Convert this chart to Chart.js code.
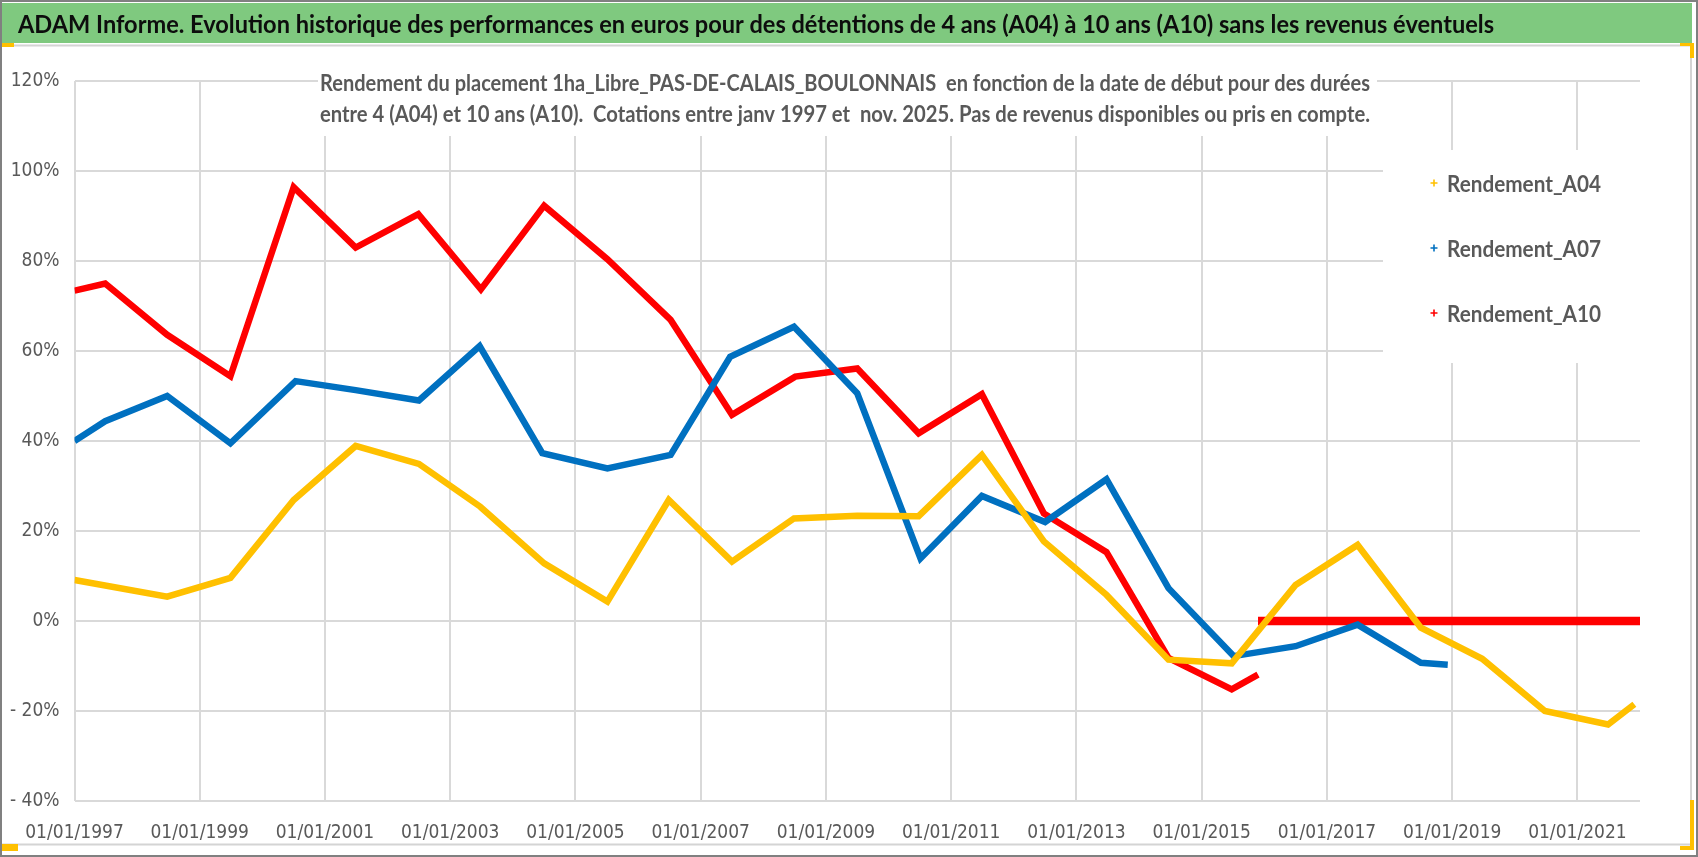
<!DOCTYPE html>
<html>
<head>
<meta charset="utf-8">
<title>ADAM Informe - Rendement 1ha_Libre_PAS-DE-CALAIS_BOULONNAIS</title>
<script src="https://cdn.jsdelivr.net/npm/chart.js@4.4.1/dist/chart.umd.min.js"></script>
<style>
    html, body { margin: 0; padding: 0; background: #ffffff; }
    canvas { display: block; }
</style>
</head>
<body>
<canvas id="myChart" width="1698" height="857"></canvas>
<script>
// axis ticks
const xTickYears = [1997, 1999, 2001, 2003, 2005, 2007, 2009, 2011, 2013, 2015, 2017, 2019, 2021];
const yTickValues = [-40, -20, 0, 20, 40, 60, 80, 100, 120];

// Rendement_A04 (start date as decimal year, return in %)
const yearsA04 = [1997.0, 1998.48, 1999.49, 2000.5, 2001.49, 2002.5, 2003.48, 2004.5, 2005.51, 2006.49,
    2007.5, 2008.49, 2009.5, 2010.48, 2011.49, 2012.48, 2013.48, 2014.47, 2015.48, 2016.5,
    2017.49, 2018.5, 2019.48, 2020.48, 2021.49, 2021.91];
const rendementA04 = [9.1, 5.4, 9.6, 26.9, 38.9, 34.9, 25.4, 12.8, 4.3, 26.9,
    13.2, 22.8, 23.4, 23.3, 36.9, 17.7, 5.8, -8.6, -9.4, 8.0,
    16.9, -1.5, -8.4, -20.0, -23.0, -18.5];

// Rendement_A07
const yearsA07 = [1997.0, 1997.49, 1998.48, 1999.49, 2000.53, 2001.49, 2002.5, 2003.47, 2004.47, 2005.51,
    2006.52, 2007.47, 2008.49, 2009.5, 2010.51, 2011.49, 2012.5, 2013.48, 2014.47, 2015.51,
    2016.5, 2017.49, 2018.5, 2018.93];
const rendementA07 = [40.0, 44.4, 50.0, 39.5, 53.3, 51.3, 49.0, 61.1, 37.3, 33.9,
    36.9, 58.7, 65.4, 50.6, 13.9, 27.8, 22.0, 31.5, 7.3, -7.8,
    -5.6, -0.8, -9.3, -9.7];

// Rendement_A10 (null = break between the last real value and the 0 % tail)
const yearsA10 = [1997.0, 1997.49, 1998.48, 1999.49, 2000.5, 2001.49, 2002.49, 2003.49, 2004.5, 2005.51,
    2006.52, 2007.5, 2008.51, 2009.5, 2010.48, 2011.49, 2012.48, 2013.48, 2014.47, 2015.48,
    2015.9, 2015.9, 2015.9, 2022.0];
const rendementA10 = [73.4, 75.0, 63.6, 54.4, 96.4, 83.0, 90.4, 73.7, 92.3, 80.4,
    66.9, 45.8, 54.3, 56.1, 41.7, 50.4, 23.9, 15.3, -8.2, -15.2,
    -11.9, null, 0, 0];

const seriesLabels = ['Rendement_A04', 'Rendement_A07', 'Rendement_A10'];
const seriesColors = ['#FFC000', '#0070C0', '#FF0000'];

const titleText = 'ADAM Informe. Evolution historique des performances en euros pour des détentions de 4 ans (A04) à 10 ans (A10) sans les revenus éventuels';
const subtitleLines = [
    'Rendement du placement 1ha_Libre_PAS-DE-CALAIS_BOULONNAIS  en fonction de la date de début pour des durées',
    'entre 4 (A04) et 10 ans (A10).  Cotations entre janv 1997 et  nov. 2025. Pas de revenus disponibles ou pris en compte.'
];

const tickFont = "'Liberation Sans Narrow', 'Arial Narrow', 'DejaVu Sans Condensed', sans-serif";
const textFont = "Lato, 'Open Sans', sans-serif";
const greyText = '#595959';

function toPoints(years, values) {
    return years.map((x, i) => ({ x: x, y: values[i] }));
}

function formatPercent(value) {
    if (value < 0) return '- ' + Math.abs(value) + '%';
    return value + '%';
}

// draw a text squeezed/stretched to an exact width, like the condensed Excel export
function drawFittedText(ctx, text, x, y, width, font, color) {
    ctx.save();
    ctx.font = font;
    ctx.fillStyle = color;
    ctx.textAlign = 'left';
    ctx.textBaseline = 'alphabetic';
    const w = ctx.measureText(text).width;
    ctx.translate(x, y);
    ctx.scale(width / w, 1);
    ctx.fillText(text, 0, 0);
    ctx.restore();
}

const excelFrame = {
    id: 'excelFrame',
    beforeDraw: (chart) => {
        const ctx = chart.ctx;
        ctx.save();
        ctx.fillStyle = '#ffffff';
        ctx.fillRect(0, 0, chart.width, chart.height);
        ctx.restore();
    },
    beforeDatasetsDraw: (chart) => {
        // white boxes of the subtitle and the legend hide the gridlines behind them
        const ctx = chart.ctx;
        ctx.save();
        ctx.fillStyle = '#ffffff';
        ctx.fillRect(318, 58, 1059, 78);
        ctx.fillRect(1383, 150, 300, 213);
        ctx.restore();
    },
    afterDraw: (chart) => {
        const ctx = chart.ctx;
        ctx.save();

        // title band
        ctx.fillStyle = '#7fc97f';
        ctx.fillRect(2, 3, 1690, 40);
        drawFittedText(ctx, titleText, 18, 33, 1476, 'bold 25px ' + textFont, '#0d0d0d');

        // inner chart border
        ctx.strokeStyle = '#d4d4d4';
        ctx.lineWidth = 2;
        ctx.beginPath();
        ctx.moveTo(2, 45.5);
        ctx.lineTo(1691, 45.5);
        ctx.lineTo(1691, 844.5);
        ctx.lineTo(2, 844.5);
        ctx.stroke();

        // outer border
        ctx.strokeStyle = '#808080';
        ctx.lineWidth = 2;
        ctx.strokeRect(1, 1, chart.width - 2, chart.height - 2);

        // selection handles
        ctx.fillStyle = '#FFC000';
        ctx.fillRect(2, 43, 12, 4);
        ctx.fillRect(1680, 43, 14, 3);
        ctx.fillRect(1690, 43, 4, 15);
        ctx.fillRect(1690, 800, 4, 50);
        ctx.fillRect(1680, 846, 14, 4);
        ctx.fillRect(2, 844, 16, 7);

        // subtitle
        subtitleLines.forEach((line, i) => {
            drawFittedText(ctx, line, 320, 91 + i * 31, 1050, 'bold 23px ' + textFont, greyText);
        });

        // legend
        chart.data.datasets.forEach((ds, i) => {
            const baseY = 192 + i * 65;
            const mx = 1434;
            const my = baseY - 9;
            ctx.strokeStyle = ds.borderColor;
            ctx.lineWidth = 1.6;
            ctx.beginPath();
            ctx.moveTo(mx - 3.5, my);
            ctx.lineTo(mx + 3.5, my);
            ctx.moveTo(mx, my - 3.5);
            ctx.lineTo(mx, my + 3.5);
            ctx.stroke();
            drawFittedText(ctx, ds.label, 1447, baseY, 154, 'bold 23px ' + textFont, greyText);
        });

        ctx.restore();
    }
};

const datasets = [
    { label: seriesLabels[0], data: toPoints(yearsA04, rendementA04), borderColor: seriesColors[0] },
    { label: seriesLabels[1], data: toPoints(yearsA07, rendementA07), borderColor: seriesColors[1] },
    { label: seriesLabels[2], data: toPoints(yearsA10, rendementA10), borderColor: seriesColors[2] }
].map(ds => Object.assign(ds, {
    backgroundColor: ds.borderColor,
    borderWidth: 6.5,
    pointRadius: 0,
    tension: 0,
    spanGaps: false,
    fill: false,
    // the flat 0 % tail of the markers looks heavier in the original
    segment: {
        borderWidth: (ctx) => (ctx.p0.parsed.y === 0 && ctx.p1.parsed.y === 0 ? 8.5 : undefined)
    }
}));

const configuration = {
    type: 'line',
    data: { datasets: datasets },
    options: {
        responsive: false,
        animation: false,
        devicePixelRatio: 1,
        layout: { padding: { top: 81, right: 58, left: 0, bottom: 0 } },
        plugins: {
            legend: { display: false },
            title: { display: false },
            tooltip: { enabled: false }
        },
        scales: {
            x: {
                type: 'linear',
                min: 1997,
                max: 2022,
                afterBuildTicks: (scale) => {
                    scale.ticks = xTickYears.map(v => ({ value: v }));
                },
                afterFit: (scale) => { scale.height = 56; },
                grid: { color: '#d9d9d9', lineWidth: 2, drawTicks: false },
                border: { display: false },
                ticks: {
                    padding: 21,
                    maxRotation: 0,
                    autoSkip: false,
                    color: greyText,
                    font: { family: tickFont, size: 19 },
                    callback: (value) => '01/01/' + value
                }
            },
            y: {
                type: 'linear',
                min: -40,
                max: 120,
                afterBuildTicks: (scale) => {
                    scale.ticks = yTickValues.map(v => ({ value: v }));
                },
                afterFit: (scale) => { scale.width = 74.5; },
                grid: { color: '#d9d9d9', lineWidth: 2, drawTicks: false },
                border: { display: false },
                ticks: {
                    padding: 15,
                    color: greyText,
                    font: { family: tickFont, size: 19 },
                    callback: (value) => formatPercent(value)
                }
            }
        }
    },
    plugins: [excelFrame]
};

document.addEventListener('DOMContentLoaded', () => {
    new Chart(document.getElementById('myChart'), configuration);
});
</script>
</body>
</html>
